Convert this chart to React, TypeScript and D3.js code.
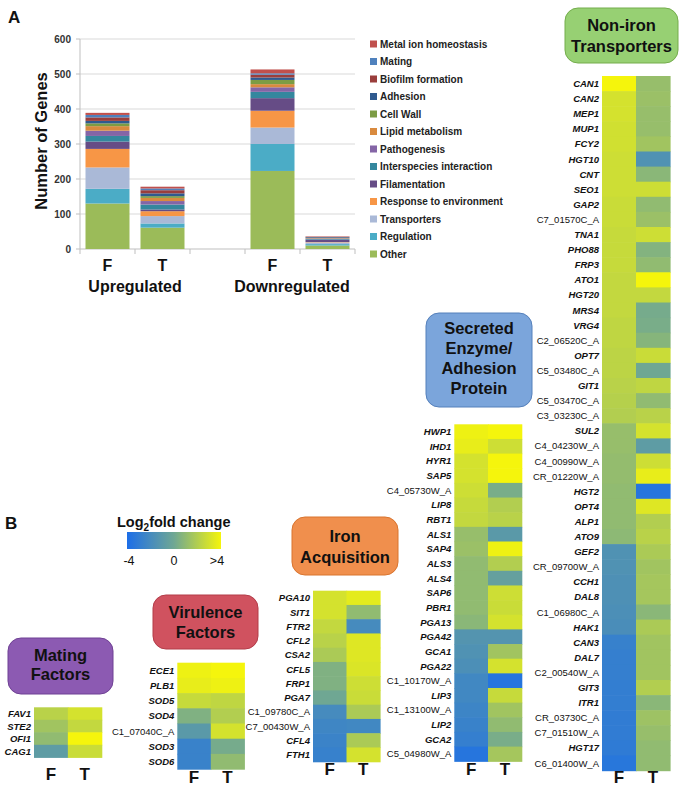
import React from 'react';
import * as d3 from 'd3';

// ---------- Panel A data ----------
const barGroups = ['Up-F', 'Up-T', 'gap', 'Down-F', 'Down-T'];
const barKeys = ['Up-F', 'Up-T', 'Down-F', 'Down-T'];
const barLetters = ['F', 'T', 'F', 'T'];
const groupLabels = ['Upregulated', 'Downregulated'];
const yTicks = [0, 100, 200, 300, 400, 500, 600];

const categories = [
  'Other', 'Regulation', 'Transporters', 'Response to environment', 'Filamentation',
  'Interspecies interaction', 'Pathogenesis', 'Lipid metabolism', 'Cell Wall', 'Adhesion',
  'Biofilm formation', 'Mating', 'Metal ion homeostasis',
];
const categoryColors = [
  '#9bbb59', '#4bacc6', '#aab9d7', '#f79646', '#664c86',
  '#34879e', '#8465a6', '#d98a3e', '#7c9c44', '#2f5a8f',
  '#9a3e3c', '#4f81bd', '#c0504d',
];
// values: [Up F, Up T, Down F, Down T]
const other = [130, 61, 223, 10];
const regulation = [42, 12, 77, 4];
const transporters = [61, 21, 47, 5];
const response = [53, 14, 48, 1];
const filamentation = [21, 5, 36, 6];
const interspecies = [16, 14, 18, 2];
const pathogenesis = [15, 10, 13, 2];
const lipid = [13, 9, 9, 1];
const cellWall = [8, 5, 12, 1];
const adhesion = [7, 8, 7, 2];
const biofilm = [10, 9, 8, 1];
const mating = [7, 5, 4, 0];
const metal = [6, 5, 11, 1];
const seriesValues = [other, regulation, transporters, response, filamentation, interspecies,
  pathogenesis, lipid, cellWall, adhesion, biofilm, mating, metal];

// ---------- Panel B data ----------
const conditions = ['F', 'T'];
const legendTicks = ['-4', '0', '>4'];

const transporterGenes = ['CAN1', 'CAN2', 'MEP1', 'MUP1', 'FCY2', 'HGT10', 'CNT', 'SEO1', 'GAP2', 'C7_01570C_A',
  'TNA1', 'PHO88', 'FRP3', 'ATO1', 'HGT20', 'MRS4', 'VRG4', 'C2_06520C_A', 'OPT7', 'C5_03480C_A', 'GIT1',
  'C5_03470C_A', 'C3_03230C_A', 'SUL2', 'C4_04230W_A', 'C4_00990W_A', 'CR_01220W_A', 'HGT2', 'OPT4', 'ALP1',
  'ATO9', 'GEF2', 'CR_09700W_A', 'CCH1', 'DAL8', 'C1_06980C_A', 'HAK1', 'CAN3', 'DAL7', 'C2_00540W_A', 'GIT3',
  'ITR1', 'CR_03730C_A', 'C7_01510W_A', 'HGT17', 'C6_01400W_A'];
const transporterF = [4.2, 3.0, 3.0, 2.9, 2.9, 2.8, 2.8, 2.8, 2.7, 2.7, 2.6, 2.6, 2.6, 2.5, 2.5, 2.5, 2.4, 2.4,
  2.3, 2.3, 2.2, 2.1, 2.0, 1.2, 1.2, 1.1, 1.1, 1.0, 1.0, 1.0, 0.9, -1.5, -1.5, -1.6, -1.6, -1.7, -1.8,
  -2.7, -2.8, -2.8, -2.9, -2.9, -3.0, -3.0, -3.1, -3.4];
const transporterT = [1.2, 1.3, 1.2, 1.2, 1.5, -1.5, 0.8, 2.8, 1.0, 1.3, 2.8, 0.6, 1.0, 4.0, 2.5, 0.2, 0.3, 0.7,
  2.7, 0.0, 2.4, 1.0, 2.2, 3.0, -0.8, 2.8, 3.6, -3.5, 3.3, 2.0, 2.2, 1.8, 1.5, 1.6, 1.6, 0.8, 1.8,
  1.5, 1.5, 1.5, 2.0, 0.8, 1.4, 1.2, 1.0, 1.0];

const secretedGenes = ['HWP1', 'IHD1', 'HYR1', 'SAP5', 'C4_05730W_A', 'LIP8', 'RBT1', 'ALS1', 'SAP4', 'ALS3',
  'ALS4', 'SAP6', 'PBR1', 'PGA13', 'PGA42', 'GCA1', 'PGA22', 'C1_10170W_A', 'LIP3', 'C1_13100W_A', 'LIP2',
  'GCA2', 'C5_04980W_A'];
const secretedF = [3.8, 3.6, 3.0, 3.0, 2.8, 2.6, 2.5, 1.2, 1.3, 1.0, 1.0, 1.0, 1.0, 0.8, -1.3, -1.5, -1.7,
  -2.2, -2.2, -2.4, -2.6, -2.8, -3.5];
const secretedT = [4.2, 2.8, 4.2, 4.0, 0.3, 2.0, 2.2, -1.0, 3.8, 2.0, -0.5, 2.8, 2.7, 3.0, -1.3, 1.5, 3.0,
  -3.5, 2.6, 1.5, 1.0, 0.3, 1.6];

const ironGenes = ['PGA10', 'SIT1', 'FTR2', 'CFL2', 'CSA2', 'CFL5', 'FRP1', 'PGA7', 'C1_09780C_A',
  'C7_00430W_A', 'CFL4', 'FTH1'];
const ironF = [3.0, 3.0, 2.5, 2.2, 1.8, 0.5, 0.5, 0.0, -2.0, -2.3, -2.5, -2.7];
const ironT = [3.5, 1.0, -2.0, 3.3, 3.3, 3.2, 2.8, 2.7, 1.8, -2.2, 1.8, 3.0];

const virulenceGenes = ['ECE1', 'PLB1', 'SOD5', 'SOD4', 'C1_07040C_A', 'SOD3', 'SOD6'];
const virulenceF = [3.8, 3.6, 2.6, 0.5, -1.0, -2.6, -2.6];
const virulenceT = [4.2, 3.8, 2.4, 2.0, 3.0, 0.2, 1.0];

const matingGenes = ['FAV1', 'STE2', 'OFI1', 'CAG1'];
const matingF = [2.2, 1.5, 1.0, -0.8];
const matingT = [3.0, 2.5, 4.2, 2.7];

const FONT = 'Liberation Sans, Arial, Helvetica, sans-serif';

const heatColor = d3.scaleLinear<string>()
  .domain([-4, 0, 4])
  .range(['#1c6ee8', '#6fa793', '#f5f50c'])
  .interpolate(d3.interpolateRgb)
  .clamp(true);

function Heatmap(props: any) {
  const { genes, f, t, x0, x1, top, rowH, labelY } = props;
  const xs = d3.scaleBand().domain(conditions).range([x0, x1]);
  const ys = d3.scaleBand().domain(genes).range([top, top + rowH * genes.length]);
  const vals = [f, t];
  return (
    <g>
      {conditions.map((c, ci) =>
        genes.map((g: string, gi: number) => (
          <rect key={c + g} x={xs(c)} y={ys(g)} width={xs.bandwidth() + 0.6}
            height={ys.bandwidth() + 0.6} fill={heatColor(vals[ci][gi])} />
        ))
      )}
      {genes.map((g: string) => {
        const locus = g.includes('_');
        return (
          <text key={'l' + g} x={x0 - 3} y={(ys(g) as number) + ys.bandwidth() / 2}
            dominantBaseline="central" textAnchor="end" fontFamily={FONT} fontSize={9.5}
            fontStyle={locus ? 'normal' : 'italic'} fontWeight={locus ? 'normal' : 'bold'} fill="#111">
            {g}
          </text>
        );
      })}
      {conditions.map((c) => (
        <text key={'c' + c} x={(xs(c) as number) + xs.bandwidth() / 2} y={labelY} textAnchor="middle"
          fontFamily={FONT} fontWeight="bold" fontSize={17} fill="#111">{c}</text>
      ))}
    </g>
  );
}

function TitleBox(props: any) {
  const { x, y, w, h, fill, stroke, lines, baselines } = props;
  return (
    <g>
      <rect x={x} y={y} width={w} height={h} rx={13} ry={13} fill={fill} stroke={stroke} strokeWidth={1} />
      {lines.map((l: string, i: number) => (
        <text key={i} x={x + w / 2} y={baselines[i]} textAnchor="middle" fontFamily={FONT}
          fontWeight="bold" fontSize={16.5} fill="#111">{l}</text>
      ))}
    </g>
  );
}

export default function App() {
  React.useEffect(() => { document.body.style.margin = '0'; }, []);

  const y = d3.scaleLinear().domain([0, 600]).range([249, 39]);
  const x = d3.scaleBand().domain(barGroups).range([80, 355]);
  const rows = barKeys.map((k, i) => {
    const r: any = { key: k };
    categories.forEach((c, j) => { r[c] = seriesValues[j][i]; });
    return r;
  });
  const stacked = d3.stack<any>().keys(categories)(rows);
  const color = d3.scaleOrdinal<string, string>().domain(categories).range(categoryColors);
  const bw = x.bandwidth();
  const boundaries = [0, 1, 2, 3, 4, 5].map((i) => 80 + i * bw);
  const legendOrder = [...categories].reverse();

  const legX = 127, legW = 94, legY = 532, legH = 17;
  const legScale = d3.scaleLinear().domain([0, 1, 2]).range([legX + 2, legX + legW / 2, legX + legW - 4]);

  return (
    <svg width={683} height={787} style={{ position: 'absolute', left: 0, top: 0, background: '#fff' }}>
      <defs>
        <linearGradient id="lfc" x1="0" x2="1" y1="0" y2="0">
          {[-4, -2, 0, 2, 4].map((v) => (
            <stop key={v} offset={`${((v + 4) / 8) * 100}%`} stopColor={heatColor(v)} />
          ))}
        </linearGradient>
      </defs>

      {/* Panel labels */}
      <text x={8} y={23} fontFamily={FONT} fontWeight="bold" fontSize={17} fill="#111">A</text>
      <text x={5} y={529} fontFamily={FONT} fontWeight="bold" fontSize={17} fill="#111">B</text>

      {/* Panel A: grid */}
      {yTicks.filter((t) => t > 0).map((t) => (
        <line key={'g' + t} x1={80} x2={355} y1={y(t)} y2={y(t)} stroke="#d9d9d9" strokeWidth={1} />
      ))}
      <line x1={80} x2={80} y1={y(600)} y2={y(0)} stroke="#bfbfbf" />
      <line x1={80} x2={355} y1={y(0)} y2={y(0)} stroke="#bfbfbf" />
      {boundaries.map((b) => (
        <line key={'b' + b} x1={b} x2={b} y1={y(0)} y2={y(0) + 5} stroke="#bfbfbf" />
      ))}
      {yTicks.map((t) => (
        <g key={'t' + t}>
          <line x1={76} x2={80} y1={y(t)} y2={y(t)} stroke="#bfbfbf" />
          <text x={71} y={y(t)} dominantBaseline="central" textAnchor="end" fontFamily={FONT}
            fontWeight="bold" fontSize={10} fill="#333">{t}</text>
        </g>
      ))}
      {stacked.map((s) => (
        <g key={s.key} fill={color(s.key)}>
          {s.map((d, i) => (
            <rect key={i} x={(x(barKeys[i]) as number) + bw * 0.1} width={bw * 0.8}
              y={y(d[1])} height={Math.max(0, y(d[0]) - y(d[1]))} />
          ))}
        </g>
      ))}
      {barKeys.map((k, i) => (
        <text key={'bl' + k} x={(x(k) as number) + bw / 2} y={271} textAnchor="middle" fontFamily={FONT}
          fontWeight="bold" fontSize={16} fill="#111">{barLetters[i]}</text>
      ))}
      <text x={x('Up-T') as number} y={292} textAnchor="middle" fontFamily={FONT} fontWeight="bold"
        fontSize={16} fill="#111">{groupLabels[0]}</text>
      <text x={(x('Down-T') as number) - 8} y={292} textAnchor="middle" fontFamily={FONT} fontWeight="bold"
        fontSize={16} fill="#111">{groupLabels[1]}</text>
      <text transform="translate(47,141) rotate(-90)" textAnchor="middle" fontFamily={FONT} fontWeight="bold"
        fontSize={16.5} fill="#111">Number of Genes</text>

      {/* Legend A */}
      {legendOrder.map((c, i) => (
        <g key={'lg' + c} transform={`translate(370,${44 + i * 17.5})`}>
          <rect x={0} y={-3.5} width={7} height={7} fill={color(c)} />
          <text x={10} y={0} dominantBaseline="central" fontFamily={FONT} fontWeight="bold" fontSize={10}
            fill="#222">{c}</text>
        </g>
      ))}

      {/* Panel B legend */}
      <text x={117} y={527} fontFamily={FONT} fontWeight="bold" fontSize={14.5} fill="#111">
        Log<tspan dy={4} fontSize={10}>2</tspan><tspan dy={-4}>fold change</tspan>
      </text>
      <rect x={legX} y={legY} width={legW} height={legH} fill="url(#lfc)" />
      {legendTicks.map((t, i) => (
        <text key={'lt' + i} x={legScale(i)} y={565} textAnchor="middle" fontFamily={FONT} fontSize={12.5}
          fill="#111">{t}</text>
      ))}

      {/* Boxes */}
      <TitleBox x={565} y={8} w={113} h={55} fill="#97d073" stroke="#74ad4c"
        lines={['Non-iron', 'Transporters']} baselines={[31, 52]} />
      <TitleBox x={426} y={313} w={106} h={94} fill="#7ba5db" stroke="#5580bb"
        lines={['Secreted', 'Enzyme/', 'Adhesion', 'Protein']} baselines={[334, 354, 374, 394]} />
      <TitleBox x={292} y={517} w={106} h={58} fill="#f08f4d" stroke="#d9742f"
        lines={['Iron', 'Acquisition']} baselines={[542, 563]} />
      <TitleBox x={153} y={595} w={105} h={54} fill="#d0525f" stroke="#b33c49"
        lines={['Virulence', 'Factors']} baselines={[618, 638]} />
      <TitleBox x={8} y={638} w={105} h={56} fill="#8c5ab2" stroke="#6f4194"
        lines={['Mating', 'Factors']} baselines={[661, 680]} />

      {/* Heatmaps */}
      <Heatmap genes={transporterGenes} f={transporterF} t={transporterT} x0={602} x1={670} top={76}
        rowH={15.1} labelY={783} />
      <Heatmap genes={secretedGenes} f={secretedF} t={secretedT} x0={454.3} x1={521.7} top={424.3}
        rowH={14.65} labelY={775} />
      <Heatmap genes={ironGenes} f={ironF} t={ironT} x0={313} x1={380} top={590.7}
        rowH={14.25} labelY={775} />
      <Heatmap genes={virulenceGenes} f={virulenceF} t={virulenceT} x0={177.3} x1={244.3} top={662.7}
        rowH={15.2} labelY={783} />
      <Heatmap genes={matingGenes} f={matingF} t={matingT} x0={34} x1={101.7} top={707.3}
        rowH={12.5} labelY={780} />
    </svg>
  );
}
